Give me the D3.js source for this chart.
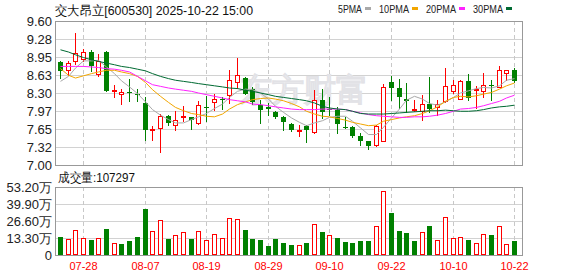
<!DOCTYPE html>
<html>
<head>
<meta charset="utf-8">
<script src="https://cdn.jsdelivr.net/npm/d3@7"></script>
<style>
  body { margin: 0; background: #fff; }
  svg text { font-family: "Liberation Sans", Arial, sans-serif; }
</style>
</head>
<body>
<div id="chart"></div>
<script>
// K-line chart: 交大昂立 daily candles + MA lines + volume

var dates = ["07-23","07-24","07-25","07-28","07-29","07-30","07-31","08-01","08-04","08-05",
  "08-06","08-07","08-08","08-11","08-12","08-13","08-14","08-15","08-18","08-19",
  "08-20","08-21","08-22","08-25","08-26","08-27","08-28","08-29","09-01","09-02",
  "09-03","09-04","09-05","09-08","09-09","09-10","09-11","09-12","09-15","09-16",
  "09-17","09-18","09-19","09-22","09-23","09-24","09-25","09-26","09-29","09-30",
  "10-09","10-10","10-13","10-14","10-15","10-16","10-17","10-20","10-21","10-22"];

var opens = [8.86,8.71,8.87,8.91,9.04,8.65,9.04,8.33,8.28,8.32,
  8.28,8.12,7.63,7.66,7.88,7.73,7.86,7.86,7.76,8.05,
  8.13,8.20,8.27,8.49,8.57,8.38,8.08,8.04,7.96,7.86,
  7.74,7.61,7.71,7.59,8.17,8.02,7.99,7.68,7.69,7.52,
  7.43,7.37,7.44,8.50,8.39,8.19,8.00,7.98,8.10,8.04,
  8.15,8.33,8.20,8.52,8.36,8.33,8.44,8.41,8.66,8.72];
var highs = [8.88,8.88,9.38,9.09,9.07,9.00,9.06,8.45,8.37,8.55,
  8.37,8.23,7.71,7.92,7.91,7.97,8.07,7.87,8.15,8.25,
  8.29,8.23,8.71,8.94,8.58,8.40,8.17,8.12,7.97,7.89,
  7.76,7.73,7.72,8.35,8.37,8.23,8.05,7.86,7.71,7.58,
  7.44,7.73,8.46,8.61,8.56,8.48,8.17,8.26,8.59,8.18,
  8.76,8.53,8.54,8.64,8.42,8.66,8.53,8.78,8.72,8.75];
var lows = [8.57,8.63,8.83,8.87,8.70,8.61,8.33,8.23,8.11,8.15,
  8.16,7.46,7.46,7.23,7.72,7.63,7.79,7.65,7.74,7.80,
  8.00,8.02,8.12,8.39,8.28,8.11,7.75,7.91,7.85,7.63,
  7.61,7.52,7.42,7.58,7.85,7.91,7.58,7.66,7.50,7.36,
  7.29,7.35,7.43,8.17,8.03,7.95,7.97,7.82,7.95,7.91,
  8.14,8.30,8.19,8.17,8.03,8.23,8.17,8.40,8.54,8.50];
var closes = [8.69,8.85,9.02,9.04,8.78,8.87,8.34,8.35,8.31,8.30,
  8.26,7.63,7.65,7.88,7.75,7.81,7.88,7.82,8.08,8.03,
  8.19,8.18,8.53,8.62,8.29,8.14,8.00,8.02,7.86,7.78,
  7.64,7.64,7.63,8.17,7.95,8.00,7.74,7.66,7.53,7.44,
  7.35,7.70,8.41,8.39,8.23,8.15,8.02,8.11,8.02,8.11,
  8.42,8.44,8.52,8.21,8.38,8.44,8.42,8.71,8.71,8.51];

// volume in 万手, and whether the bar is drawn red (1) or green (0)
var volumes = [14.1,12.3,19.6,13.0,11.7,13.0,20.3,9.1,8.6,11.2,
  14.1,36.0,18.8,27.1,12.5,15.4,18.0,12.5,18.8,11.5,
  16.2,13.0,28.7,27.9,19.6,12.5,11.7,7.0,12.5,9.4,
  7.8,7.6,9.4,24.0,18.0,15.4,13.3,10.4,9.4,11.0,
  11.0,22.4,49.8,32.9,18.8,17.2,11.2,18.0,22.7,11.7,
  29.5,13.3,13.8,11.7,9.4,16.4,15.6,22.7,8.6,10.73];
var volUp = [0,1,1,1,0,1,0,1,0,0, 0,0,1,1,0,1,1,0,1,1,
  1,1,1,1,0,0,0,0,0,0, 0,1,0,1,0,1,0,0,0,0,
  0,1,1,0,0,0,0,1,0,1, 1,1,1,0,1,1,0,1,1,0];

var ma5 = [8.51,8.60,8.75,8.88,8.88,8.89,8.77,8.65,8.52,8.41,
  8.29,8.14,8.00,7.90,7.82,7.76,7.76,7.82,7.87,7.93,
  8.02,8.10,8.22,8.33,8.37,8.36,8.30,8.19,8.06,7.95,
  7.85,7.77,7.71,7.76,7.80,7.86,7.88,7.88,7.79,7.67,
  7.55,7.55,7.68,7.85,8.01,8.17,8.24,8.19,8.11,8.08,
  8.14,8.22,8.30,8.34,8.38,8.40,8.39,8.43,8.53,8.56];
var ma10 = [8.74,8.62,8.57,8.61,8.65,8.68,8.71,8.71,8.68,8.65,
  8.60,8.49,8.36,8.24,8.13,8.04,7.98,7.93,7.91,7.88,
  7.87,7.92,8.01,8.09,8.14,8.18,8.20,8.21,8.19,8.16,
  8.11,8.05,7.97,7.92,7.88,7.87,7.84,7.81,7.77,7.74,
  7.71,7.72,7.79,7.82,7.85,7.87,7.89,7.93,7.98,8.05,
  8.15,8.22,8.24,8.23,8.25,8.28,8.31,8.37,8.43,8.48];
var ma20 = [8.78,8.78,8.78,8.78,8.77,8.76,8.74,8.73,8.71,8.68,
  8.60,8.52,8.45,8.42,8.39,8.37,8.35,8.33,8.30,8.27,
  8.24,8.21,8.18,8.16,8.14,8.10,8.09,8.07,8.05,8.03,
  8.01,8.00,8.00,8.00,8.01,8.01,8.01,8.00,7.97,7.94,
  7.91,7.89,7.88,7.87,7.86,7.86,7.87,7.87,7.88,7.90,
  7.93,7.97,8.01,8.02,8.04,8.07,8.11,8.15,8.21,8.26];
var ma30 = [9.08,9.04,8.99,8.94,8.90,8.87,8.84,8.81,8.78,8.76,
  8.73,8.70,8.65,8.60,8.56,8.53,8.51,8.49,8.47,8.45,
  8.43,8.41,8.39,8.38,8.35,8.33,8.30,8.27,8.24,8.22,
  8.20,8.18,8.16,8.12,8.06,8.03,8.01,8.00,7.97,7.93,
  7.92,7.92,7.92,7.93,7.94,7.95,7.96,7.97,7.98,7.98,
  7.99,7.98,7.97,7.97,7.98,8.00,8.03,8.05,8.06,8.08];

var maNames = ["5PMA", "10PMA", "20PMA", "30PMA"];
var maColors = ["#a9a9a9", "#f2a600", "#ff22ff", "#006a32"];

var dateTicks = ["07-28","08-07","08-19","08-29","09-10","09-22","10-10","10-22"];
var priceTicks = [9.60, 9.275, 8.95, 8.625, 8.30, 7.975, 7.65, 7.325, 7.00];
var priceLabels = ["9.60","9.28","8.95","8.63","8.30","7.97","7.65","7.32","7.00"];
var volTicks = [53.2, 39.9, 26.6, 13.3, 0];
var volLabels = ["53.20万","39.90万","26.60万","13.30万","0"];

var title = "交大昂立[600530] 2025-10-22 15:00";
var volTitle = "成交量:107297";

// layout
var svgWidth = 578, svgHeight = 276;
var plotLeft = 55, plotRight = 522;
var priceTop = 21, priceBottom = 165;
var volTop = 187, volBottom = 255;
var red = "#ff0000", green = "#008000";

var svg = d3.select("#chart").append("svg")
  .attr("width", svgWidth)
  .attr("height", svgHeight);

var x = d3.scaleBand().domain(dates).range([56, 518]);
var yPrice = d3.scaleLinear().domain([7.00, 9.60]).range([priceBottom, priceTop]);
var yVol = d3.scaleLinear().domain([0, 53.2]).range([volBottom, volTop]);

function cx(d) { return Math.round(x(d) + x.bandwidth() / 2); }

// ---- grid ----
var grid = svg.append("g");
priceTicks.slice(1, -1).forEach(function(v) {
  var y = Math.round(yPrice(v)) + 0.5;
  grid.append("line").attr("x1", plotLeft).attr("x2", plotRight).attr("y1", y).attr("y2", y)
    .attr("stroke", "#d2d2d2");
});
volTicks.slice(1, -1).forEach(function(v) {
  var y = Math.round(yVol(v)) + 0.5;
  grid.append("line").attr("x1", plotLeft).attr("x2", plotRight).attr("y1", y).attr("y2", y)
    .attr("stroke", "#d2d2d2");
});
dateTicks.forEach(function(d) {
  var xx = cx(d) + 0.5;
  [[priceTop, priceBottom], [volTop, volBottom]].forEach(function(r) {
    grid.append("line").attr("x1", xx).attr("x2", xx).attr("y1", r[0]).attr("y2", r[1])
      .attr("stroke", "#c8c8c8").attr("stroke-dasharray", "4,3");
  });
});

// watermark
svg.append("text")
  .attr("x", 240).attr("y", 101)
  .attr("font-family", "Noto Sans CJK SC")
  .attr("font-size", 32).attr("font-weight", "bold")
  .attr("fill", "#efeff2").attr("stroke", "#e2e2e6").attr("stroke-width", 0.6)
  .text("东方财富");

// ---- frames ----
svg.append("rect").attr("x", plotLeft + 0.5).attr("y", priceTop + 0.5)
  .attr("width", plotRight - plotLeft).attr("height", priceBottom - priceTop)
  .attr("fill", "none").attr("stroke", "#999");
svg.append("rect").attr("x", plotLeft + 0.5).attr("y", volTop + 0.5)
  .attr("width", plotRight - plotLeft).attr("height", volBottom - volTop)
  .attr("fill", "none").attr("stroke", "#999");

// ---- candles ----
var candles = dates.map(function(d, i) {
  return { date: d, o: opens[i], h: highs[i], l: lows[i], c: closes[i], v: volumes[i], vUp: volUp[i] };
});

var cg = svg.append("g");
candles.forEach(function(d) {
  var up = d.c >= d.o;
  var col = up ? red : green;
  var xc = cx(d.date);
  var yh = Math.round(yPrice(d.h)), yl = Math.round(yPrice(d.l));
  var top = Math.round(yPrice(Math.max(d.o, d.c)));
  var bot = Math.round(yPrice(Math.min(d.o, d.c)));
  cg.append("rect").attr("x", xc).attr("y", yh).attr("width", 1).attr("height", yl - yh + 1)
    .attr("fill", col);
  if (up) {
    cg.append("rect").attr("x", xc - 1.5).attr("y", top + 0.5)
      .attr("width", 4).attr("height", Math.max(bot - top, 1))
      .attr("fill", "#fff").attr("stroke", col);
  } else {
    cg.append("rect").attr("x", xc - 2).attr("y", top)
      .attr("width", 5).attr("height", Math.max(bot - top, 1))
      .attr("fill", col);
  }
});

// ---- MA lines ----
var maSeries = [ma5, ma10, ma20, ma30];
maSeries.forEach(function(arr, k) {
  var line = d3.line()
    .x(function(v, i) { return cx(dates[i]) + 0.5; })
    .y(function(v) { return yPrice(v); });
  svg.append("path").datum(arr)
    .attr("d", line)
    .attr("fill", "none")
    .attr("stroke", maColors[k])
    .attr("stroke-width", 1);
});

// ---- volume ----
var vg = svg.append("g");
candles.forEach(function(d) {
  var xc = cx(d.date);
  var top = Math.round(yVol(d.v));
  if (d.vUp) {
    vg.append("rect").attr("x", xc - 1.5).attr("y", top + 0.5)
      .attr("width", 4).attr("height", volBottom - top - 1)
      .attr("fill", "#fff").attr("stroke", red);
  } else {
    vg.append("rect").attr("x", xc - 2).attr("y", top)
      .attr("width", 5).attr("height", volBottom - top)
      .attr("fill", green);
  }
});

// ---- axis labels ----
priceTicks.forEach(function(v, i) {
  svg.append("text").attr("x", 52).attr("y", yPrice(v)).attr("dy", "0.36em")
    .attr("text-anchor", "end").attr("font-size", 13).attr("fill", "#222")
    .text(priceLabels[i]);
});
volTicks.forEach(function(v, i) {
  svg.append("text").attr("x", 52).attr("y", yVol(v)).attr("dy", "0.36em")
    .attr("text-anchor", "end").attr("font-size", 13).attr("fill", "#222")
    .text(volLabels[i]);
});
dateTicks.forEach(function(d) {
  svg.append("text").attr("x", cx(d) + 0.5).attr("y", 270)
    .attr("text-anchor", "middle").attr("font-family", "Liberation Mono")
    .attr("font-size", 11).attr("fill", red)
    .text(d);
});

// ---- titles (squeezed to the widths of the reference) ----
svg.append("text").attr("x", 55).attr("y", 15)
  .attr("font-family", "Noto Sans CJK SC").attr("font-size", 13).attr("fill", "#111")
  .attr("textLength", 198).attr("lengthAdjust", "spacingAndGlyphs")
  .text(title);
svg.append("text").attr("x", 58).attr("y", 182)
  .attr("font-family", "Noto Sans CJK SC").attr("font-size", 13).attr("fill", "#111")
  .attr("textLength", 77).attr("lengthAdjust", "spacingAndGlyphs")
  .text(volTitle);

// ---- legend (narrow serif text, squeezed to the widths seen in the reference) ----
var lx = 338;
maNames.forEach(function(name, k) {
  var w = name.length === 4 ? 24 : 30;
  svg.append("text").attr("x", lx).attr("y", 13)
    .attr("font-family", "Liberation Serif").attr("font-size", 11).attr("fill", "#222")
    .attr("textLength", w).attr("lengthAdjust", "spacingAndGlyphs")
    .text(name);
  svg.append("rect").attr("x", lx + w + 3).attr("y", 7).attr("width", 6).attr("height", 3)
    .attr("fill", maColors[k]);
  lx = lx + w + 3 + 6 + 8;
});
</script>
</body>
</html>
